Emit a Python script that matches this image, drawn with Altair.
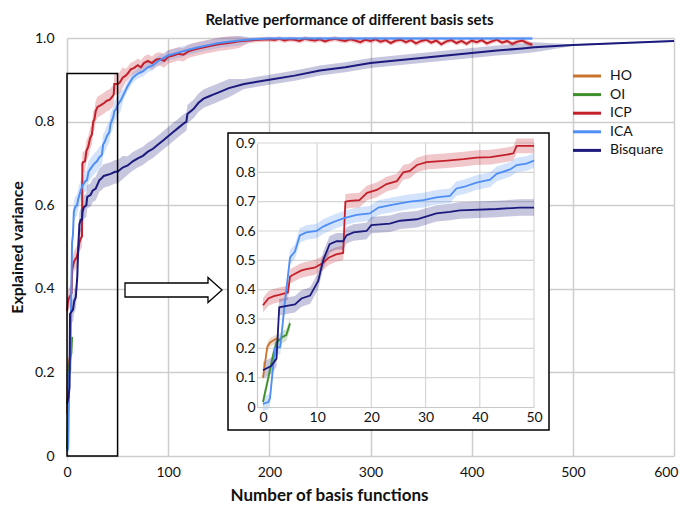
import altair as alt
import pandas as pd

SERIES = ["HO", "OI", "ICP", "ICA", "Bisquare"]
COLORS = ["#c8742f", "#3f8f2c", "#c4202b", "#4f8ef5", "#1c1a7d"]
WIDTHS = [2.0, 2.0, 2.6, 2.2, 2.6]

# --- series values ---
HO_x = [0, 0.8, 1.3, 2.2, 2.8]
HO_y = [0.10, 0.205, 0.22, 0.23, 0.235]

OI_x = [0, 1, 1.9, 2.5, 3.1, 3.7, 4.3, 5]
OI_y = [0.017, 0.10, 0.18, 0.22, 0.23, 0.24, 0.245, 0.285]

ICP_x = [0, 1, 2, 3, 4, 4.6, 5, 6, 7, 8, 9.5, 11, 12.2, 13.5, 14.8, 15.2, 16, 17.8,
         19.2, 21, 22.8, 24.7, 25.9, 27.1, 28.4, 30.2, 34, 37, 39.4, 42, 45, 46.2,
         46.8, 48, 50,
         52, 55, 58, 60, 63, 66, 70, 73, 76, 80, 84, 88, 92, 96, 100, 105, 110, 115,
         120, 125, 130, 140, 150, 160, 170, 180, 190,
         200, 205, 210, 215, 220, 225, 230, 235, 240, 245, 250, 255, 260, 265, 270,
         275, 280, 285, 290, 295, 300, 305, 310, 315, 320, 325, 330, 335, 340, 345,
         350, 355, 360, 365, 370, 375, 380, 385, 390, 395, 400, 405, 410, 415, 420,
         425, 430, 435, 440, 445, 450, 455, 460]
ICP_y = [0.347, 0.37, 0.378, 0.382, 0.387, 0.39, 0.445, 0.455, 0.465, 0.47, 0.475,
         0.49, 0.51, 0.52, 0.525, 0.70, 0.703, 0.705, 0.73, 0.74, 0.76, 0.77, 0.80,
         0.805, 0.825, 0.835, 0.84, 0.845, 0.85, 0.852, 0.86, 0.865, 0.89, 0.89, 0.89,
         0.893, 0.905, 0.91, 0.915, 0.925, 0.928, 0.935, 0.93, 0.94, 0.945, 0.94,
         0.948, 0.95, 0.945, 0.955, 0.958, 0.962, 0.96, 0.968, 0.972, 0.975, 0.98,
         0.985, 0.988, 0.992, 0.994, 0.996,
         0.997, 0.995, 0.998, 0.994, 0.997, 0.996, 0.993, 0.998, 0.996, 0.994,
         0.997, 0.992, 0.996, 0.998, 0.995, 0.993, 0.997, 0.994, 0.990, 0.996,
         0.993, 0.997, 0.991, 0.995, 0.988, 0.994, 0.996, 0.990, 0.995, 0.987,
         0.993, 0.996, 0.989, 0.994, 0.985, 0.992, 0.995, 0.988, 0.993, 0.986,
         0.994, 0.990, 0.995, 0.987, 0.992, 0.996, 0.989, 0.993, 0.986, 0.991,
         0.994, 0.988, 0.984]

ICA_x = [0, 1, 1.3, 2.2, 3.2, 4, 5, 5.9, 6.8, 8, 9.9, 11.1, 12.3, 13.6, 15.1, 17.3,
         19.7, 21.3, 24, 27.1, 29.6, 32, 34.5, 35.7, 37, 39.4, 41.9, 43.1, 45.6,
         46.8, 48.6, 50,
         53, 56, 60, 65, 70, 75, 80, 85, 90, 100, 110, 120, 130, 140, 150, 160, 170,
         185, 200, 460]
ICA_y = [0.011, 0.017, 0.03, 0.2, 0.205, 0.35, 0.51, 0.53, 0.585, 0.595, 0.60,
         0.615, 0.625, 0.635, 0.645, 0.655, 0.66, 0.68, 0.69, 0.70, 0.705, 0.715,
         0.72, 0.745, 0.75, 0.765, 0.775, 0.795, 0.81, 0.825, 0.83, 0.84,
         0.85, 0.865, 0.885, 0.905, 0.915, 0.92, 0.93, 0.935, 0.945, 0.958, 0.965,
         0.972, 0.978, 0.983, 0.988, 0.991, 0.994, 0.997, 0.999, 0.999]

BIS_x = [0, 1.5, 2.5, 3.0, 4.4, 5.9, 7.1, 8.7, 9.3, 10.2, 11.1, 12.3, 13.6, 14.8,
         15.4, 16.7, 19.1, 20, 23.4, 25.3, 28.4, 30.2, 32, 34.5, 36.3, 43.1, 47.4, 50,
         55, 60, 65, 70, 75, 80, 85, 90, 95, 100, 105, 110, 115, 118, 119, 125, 130,
         135, 140, 145, 150, 160, 175, 200, 225, 250, 275, 300, 325, 350, 375, 400,
         425, 450, 462, 500, 550, 600]
BIS_y = [0.125, 0.14, 0.165, 0.34, 0.345, 0.35, 0.37, 0.38, 0.40, 0.43, 0.50, 0.555,
         0.565, 0.565, 0.585, 0.595, 0.60, 0.62, 0.625, 0.635, 0.64, 0.65, 0.66,
         0.665, 0.67, 0.675, 0.68, 0.68,
         0.69, 0.695, 0.705, 0.712, 0.718, 0.728, 0.735, 0.745, 0.755, 0.765, 0.775,
         0.785, 0.795, 0.80, 0.818, 0.83, 0.845, 0.855, 0.86, 0.865, 0.87, 0.88,
         0.89, 0.90, 0.91, 0.922, 0.93, 0.94, 0.946, 0.952, 0.958, 0.964, 0.97,
         0.975, 0.978, 0.983, 0.988, 0.993]

# half-width of the shaded bands: near (x<=55), mid (x<=170), far
BAND_NEAR = [0.015, 0.02, 0.025, 0.025, 0.028]
BAND_MID = [0.015, 0.02, 0.016, 0.012, 0.022]
BAND_FAR = [0.006, 0.006, 0.006, 0.004, 0.012]
BAND_END_X = 462  # Bisquare band stops here

# zoom box in the main chart (data units) and inset grid ticks
BOX_X = [0, 50]
BOX_Y = [0, 0.915]
INSET_XT = [10, 20, 30, 40, 50]
INSET_YT = [0.1, 0.2, 0.3, 0.4, 0.5, 0.6, 0.7, 0.8, 0.9]

raw = {"HO": (HO_x, HO_y), "OI": (OI_x, OI_y), "ICP": (ICP_x, ICP_y),
       "ICA": (ICA_x, ICA_y), "Bisquare": (BIS_x, BIS_y)}
rows = []
for i, s in enumerate(SERIES):
    xs, ys = raw[s]
    for x, y in zip(xs, ys):
        if x <= 55:
            h = BAND_NEAR[i]
        elif x <= 170:
            h = BAND_MID[i]
        else:
            h = BAND_FAR[i]
        if s == "Bisquare" and x > BAND_END_X:
            h = 0.002
        rows.append({"series": s, "order": i, "x": x, "y": y,
                     "lo": y - h, "hi": min(y + h, 1.005)})
df = pd.DataFrame(rows)
df_in = df[df.x <= 50]

FONT = "Lato"
color = alt.Color("series:N", scale=alt.Scale(domain=SERIES, range=COLORS), legend=None)
swidth = alt.StrokeWidth("series:N", scale=alt.Scale(domain=SERIES, range=WIDTHS), legend=None)

# ---------- main chart ----------
lab0 = "datum.value == 0 ? '0' : format(datum.value, '.1f')"
xax = alt.Axis(values=[0, 100, 200, 300, 400, 500, 600], title="Number of basis functions",
               grid=True, gridColor="#cdcdcd", gridWidth=1.5, domain=False, ticks=False,
               labelFont=FONT, labelFontSize=14, labelColor="#111", labelPadding=9,
               labelFlush=True, labelFlushOffset=4, titleFont=FONT, titleFontSize=17,
               titleFontWeight="bold",
               titleColor="#111", titleX=262, titleY=39, titleBaseline="middle",
               titleAlign="center", titleAnchor="start")
yax = alt.Axis(values=[0, 0.2, 0.4, 0.6, 0.8, 1.0], title="Explained variance",
               labelExpr=lab0, grid=True, gridColor="#cdcdcd", gridWidth=1.5,
               domain=False, ticks=False, labelFont=FONT, labelFontSize=14,
               labelColor="#111", labelPadding=13, titleFont=FONT, titleFontSize=16,
               titleFontWeight="bold", titleColor="#111", titleX=-50, titleY=209,
               titleAngle=270, titleBaseline="middle", titleAlign="center",
               titleAnchor="start")
xs_main = alt.Scale(domain=[0, 600], nice=False, zero=False)
ys_main = alt.Scale(domain=[0, 1], nice=False)


def MX(f):
    return alt.X(f, scale=xs_main, axis=xax)


def MY(f):
    return alt.Y(f, scale=ys_main, axis=yax)


base = alt.Chart(df)
m_band = base.mark_area(opacity=0.25, interpolate="linear").encode(
    x=MX("x:Q"), y=MY("lo:Q"), y2="hi:Q", color=color, detail="series:N")
m_line = base.mark_line(interpolate="linear").encode(
    x=MX("x:Q"), y=MY("y:Q"), color=color, strokeWidth=swidth, order="order:Q")
box_df = pd.DataFrame({"x0": [BOX_X[0]], "x1": [BOX_X[1]], "y0": [BOX_Y[0]], "y1": [BOX_Y[1]]})
m_box = alt.Chart(box_df).mark_rect(fillOpacity=0, stroke="black", strokeWidth=1.5).encode(
    x=MX("x0:Q"), x2="x1:Q", y=MY("y0:Q"), y2="y1:Q")

arrow_path = ("M-0.97,-0.14 L0.69,-0.14 L0.69,-0.25 L0.97,0 L0.69,0.25 L0.69,0.14 "
              "L-0.97,0.14 Z")
m_arrow = alt.Chart(box_df).mark_point(
    shape=arrow_path, size=10000, filled=True, fill="white", fillOpacity=1,
    stroke="black", strokeWidth=1.3, opacity=1).encode(
    x=alt.value(106.5), y=alt.value(252))

leg_df = pd.DataFrame({"series": SERIES, "i": list(range(len(SERIES)))})
leg = alt.Chart(leg_df).transform_calculate(ly="38 + datum.i * 18.6")
m_leg_line = leg.mark_rule(strokeWidth=3).encode(
    x=alt.value(506), x2=alt.value(534), y=alt.Y("ly:Q", scale=None), color=color)
m_leg_text = leg.mark_text(align="left", baseline="middle", font=FONT, fontSize=14,
                           color="#111").encode(
    x=alt.value(543), y=alt.Y("ly:Q", scale=None), text="series:N")

main = alt.layer(m_band, m_line, m_box, m_arrow, m_leg_line, m_leg_text)

# ---------- inset ----------
xs_in = alt.Scale(domain=[-1.1, 50], range=[190, 467], nice=False, zero=False)
ys_in = alt.Scale(domain=[0, 0.9], range=[369, 105], nice=False, zero=False)
ixax = alt.Axis(values=[0, 10, 20, 30, 40, 50], orient="bottom", offset=-49, grid=False,
                domainColor="#c8c8c8", domainWidth=1.2, ticks=False, labelFont=FONT,
                labelFontSize=14, labelColor="#111", labelPadding=3, labelFlush=False,
                title=None, zindex=2)
iyax = alt.Axis(values=[0, 0.1, 0.2, 0.3, 0.4, 0.5, 0.6, 0.7, 0.8, 0.9], orient="left",
                offset=-190, grid=False, domainColor="#c8c8c8", domainWidth=1.2,
                ticks=False, labelExpr=lab0, labelFont=FONT, labelFontSize=14,
                labelColor="#111", labelPadding=2, title=None, zindex=2)


def IX(f):
    return alt.X(f, scale=xs_in, axis=ixax)


def IY(f):
    return alt.Y(f, scale=ys_in, axis=iyax)


frame = alt.Chart(box_df).mark_rect(fill="white", stroke="black", strokeWidth=1.5).encode(
    x=alt.value(161), x2=alt.value(482), y=alt.value(95), y2=alt.value(392))
vg_df = pd.DataFrame({"gx": INSET_XT, "y0": 0.0, "y1": 0.9})
hg_df = pd.DataFrame({"gy": INSET_YT, "x0": -1.1, "x1": 50.0})
i_vgrid = alt.Chart(vg_df).mark_rule(color="#d6d6d6", strokeWidth=1.2).encode(
    x=IX("gx:Q"), y=IY("y0:Q"), y2="y1:Q")
i_hgrid = alt.Chart(hg_df).mark_rule(color="#d6d6d6", strokeWidth=1.2).encode(
    y=IY("gy:Q"), x=IX("x0:Q"), x2="x1:Q")
ibase = alt.Chart(df_in)
i_band = ibase.mark_area(opacity=0.25).encode(
    x=IX("x:Q"), y=IY("lo:Q"), y2="hi:Q", color=color, detail="series:N")
i_line = ibase.mark_line(strokeWidth=1.8).encode(
    x=IX("x:Q"), y=IY("y:Q"), color=color, order="order:Q")

inset = alt.layer(frame, i_vgrid, i_hgrid, i_band, i_line)

chart = alt.layer(main, inset).resolve_scale(x="independent", y="independent").properties(
    width=607, height=418,
    padding={"left": 59, "top": 30, "right": 6, "bottom": 51},
    autosize=alt.AutoSizeParams(type="none"),
    title=alt.TitleParams("Relative performance of different basis sets", font=FONT,
                          fontSize=15, fontWeight="bold", color="#111", anchor="middle",
                          dx=-21, offset=3),
).configure_view(stroke=None)

chart.save("out.html", embed_options={"renderer": "svg", "actions": False})
